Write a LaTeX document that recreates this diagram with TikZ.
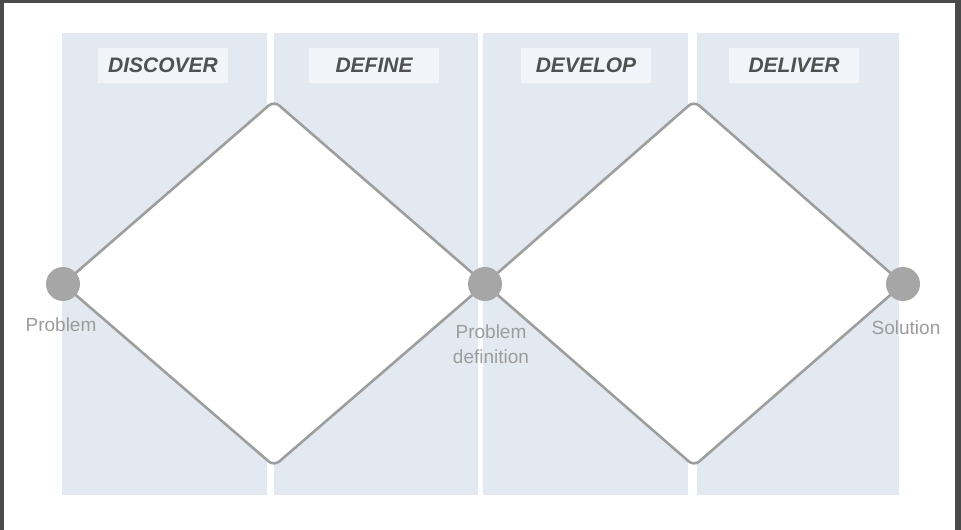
\documentclass[tikz,border=0pt]{standalone}
\usepackage{fontspec}
\setmainfont{Liberation Sans}
\usetikzlibrary{positioning}
\definecolor{backdrop}{HTML}{4A4A4A}
\definecolor{phasefill}{HTML}{E2E9F1}
\definecolor{tagfill}{HTML}{F1F4F8}
\definecolor{rim}{HTML}{9E9E9E}
\definecolor{dotfill}{HTML}{A6A6A6}
\definecolor{tagink}{HTML}{505050}
\definecolor{softink}{HTML}{9C9C9C}
\tikzstyle{phase}=[fill=phasefill, draw=none]
\tikzstyle{tag}=[fill=tagfill, minimum width=130pt, minimum height=35pt, inner sep=0pt, text=tagink, font=\fontsize{21}{22}\selectfont\bfseries\itshape]
\tikzstyle{hub}=[circle, fill=dotfill, minimum size=34pt, inner sep=0pt]
\tikzstyle{diamond line}=[draw=rim, line width=2.6pt, fill=white, rounded corners=7pt]
\tikzstyle{caption}=[text=softink, align=center, font=\fontsize{19}{25}\selectfont]
\newcommand{\hub}{\node[hub]}
\newcommand{\tag}{\node[tag]}

\begin{document}
\begin{tikzpicture}[x=1pt, y=-1pt]
	\useasboundingbox (0,0) rectangle (961,530);
	\fill[backdrop] (0,0) rectangle (961,530);
	\fill[white] (4,3) rectangle (955,530);
	\fill[phase] (62,33) rectangle (267,495);
	\fill[phase] (274,33) rectangle (478,495);
	\fill[phase] (483,33) rectangle (688,495);
	\fill[phase] (697,33) rectangle (899,495);
	\tag (discover) at (163,65) {DISCOVER};
	\tag (define) at (374,65) {DEFINE};
	\tag (develop) at (586,65) {DEVELOP};
	\tag (deliver) at (794,65) {DELIVER};
	\coordinate (start) at (63,284);
	\coordinate (mid) at (485,284);
	\coordinate (end) at (903,284);
	\coordinate (top1) at (274,101);
	\coordinate (bot1) at (274,466);
	\coordinate (top2) at (694,101);
	\coordinate (bot2) at (694,466);
	\draw[diamond line] (start) -- (top1) -- (mid) -- (bot1) -- cycle;
	\draw[diamond line] (mid) -- (top2) -- (end) -- (bot2) -- cycle;
	\hub (problem) at (start) {};
	\hub (definition) at (mid) {};
	\hub (solution) at (end) {};
	\node[caption] (problemtext) at (61,325) {Problem};
	\node[caption] (definitiontext) at (491,344) {Problem\\definition};
	\node[caption] (solutiontext) at (906,328) {Solution};
\end{tikzpicture}
\end{document}
